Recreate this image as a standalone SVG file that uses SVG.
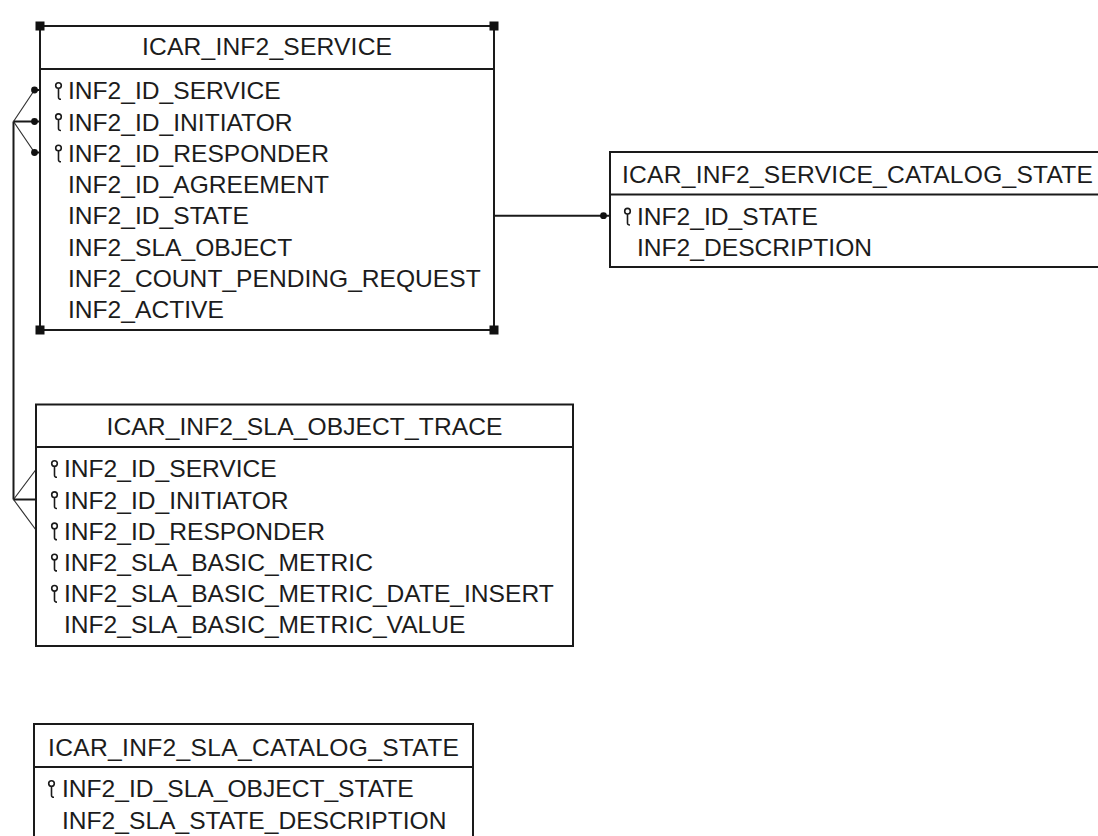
<svg xmlns="http://www.w3.org/2000/svg" width="1098" height="836" viewBox="0 0 1098 836">
<style>
  .box { fill: #ffffff; stroke: #1a1a1a; stroke-width: 2; }
  .div { stroke: #1a1a1a; stroke-width: 2; }
  .t { font-family: "Liberation Sans", Arial, sans-serif; font-size: 24.6px; fill: #1c1c1c; }
  .title { text-anchor: middle; }
  .conn { fill: none; stroke: #1a1a1a; stroke-width: 2; }
  .thin { fill: none; stroke: #333333; stroke-width: 1.2; }
  .dot { fill: #111111; }
  .handle { fill: #111111; }
  .key { fill: none; stroke: #1a1a1a; stroke-width: 1.6; }
</style>
<defs>
  <g id="keyicon">
    <circle class="key" cx="3.5" cy="-13.8" r="2.8"/>
    <path class="key" d="M3.5,-11 V-2 Q3.5,0 6,0"/>
  </g>
</defs>
<rect x="0" y="0" width="1098" height="836" fill="#ffffff"/>

<g id="connectors">
  <!-- SERVICE to SLA_OBJECT_TRACE -->
  <path class="conn" d="M13.5,121.5 V499.5"/>
  <path class="thin" d="M13.5,121.5 L34.5,90 M13.5,121.5 L34.5,152.5"/>
  <path class="conn" d="M13.5,121.5 H40 M34.5,90 H40 M34.5,152.5 H40"/>
  <circle class="dot" cx="34.5" cy="90" r="3.4"/>
  <circle class="dot" cx="34.5" cy="121.5" r="3.4"/>
  <circle class="dot" cx="34.5" cy="152.5" r="3.4"/>
  <path class="thin" d="M13.5,499.5 L36,469.5 M13.5,499.5 L36,530"/>
  <path class="conn" d="M13.5,499.5 H36"/>
  <!-- SERVICE to SERVICE_CATALOG_STATE -->
  <path class="conn" d="M494,215.7 H610"/>
  <circle class="dot" cx="603.5" cy="215.7" r="3.4"/>
</g>

<g id="icar_inf2_service">
  <rect class="box" x="40" y="26" width="454" height="304"/>
  <line class="div" x1="40" y1="69" x2="494" y2="69"/>
  <text class="t title" x="267" y="55" textLength="250" lengthAdjust="spacing">ICAR_INF2_SERVICE</text>
  <use href="#keyicon" x="55" y="99.3"/>
  <use href="#keyicon" x="55" y="130.5"/>
  <use href="#keyicon" x="55" y="161.8"/>
  <text class="t" x="68" y="99.3">INF2_ID_SERVICE</text>
  <text class="t" x="68" y="130.5">INF2_ID_INITIATOR</text>
  <text class="t" x="68" y="161.8">INF2_ID_RESPONDER</text>
  <text class="t" x="68" y="193">INF2_ID_AGREEMENT</text>
  <text class="t" x="68" y="224.3">INF2_ID_STATE</text>
  <text class="t" x="68" y="255.5">INF2_SLA_OBJECT</text>
  <text class="t" x="68" y="286.8">INF2_COUNT_PENDING_REQUEST</text>
  <text class="t" x="68" y="318">INF2_ACTIVE</text>
  <rect class="handle" x="35.5" y="21.5" width="9" height="9"/>
  <rect class="handle" x="489.5" y="21.5" width="9" height="9"/>
  <rect class="handle" x="35.5" y="325.5" width="9" height="9"/>
  <rect class="handle" x="489.5" y="325.5" width="9" height="9"/>
</g>

<g id="icar_inf2_service_catalog_state">
  <rect class="box" x="610" y="152" width="500" height="115"/>
  <line class="div" x1="610" y1="194.5" x2="1110" y2="194.5"/>
  <text class="t" x="622" y="182.5" textLength="471" lengthAdjust="spacing">ICAR_INF2_SERVICE_CATALOG_STATE</text>
  <use href="#keyicon" x="624" y="225"/>
  <text class="t" x="637" y="225">INF2_ID_STATE</text>
  <text class="t" x="637" y="256">INF2_DESCRIPTION</text>
</g>

<g id="icar_inf2_sla_object_trace">
  <rect class="box" x="36" y="404.5" width="537" height="241.5"/>
  <line class="div" x1="36" y1="447" x2="573" y2="447"/>
  <text class="t title" x="304.5" y="434.5" textLength="396" lengthAdjust="spacing">ICAR_INF2_SLA_OBJECT_TRACE</text>
  <use href="#keyicon" x="51" y="477.3"/>
  <use href="#keyicon" x="51" y="508.5"/>
  <use href="#keyicon" x="51" y="539.7"/>
  <use href="#keyicon" x="51" y="570.9"/>
  <use href="#keyicon" x="51" y="602.1"/>
  <text class="t" x="64" y="477.3">INF2_ID_SERVICE</text>
  <text class="t" x="64" y="508.5">INF2_ID_INITIATOR</text>
  <text class="t" x="64" y="539.7">INF2_ID_RESPONDER</text>
  <text class="t" x="64" y="570.9">INF2_SLA_BASIC_METRIC</text>
  <text class="t" x="64" y="602.1">INF2_SLA_BASIC_METRIC_DATE_INSERT</text>
  <text class="t" x="64" y="633.3">INF2_SLA_BASIC_METRIC_VALUE</text>
</g>

<g id="icar_inf2_sla_catalog_state">
  <rect class="box" x="34" y="724" width="439" height="130"/>
  <line class="div" x1="34" y1="767" x2="473" y2="767"/>
  <text class="t title" x="253.5" y="756" textLength="411" lengthAdjust="spacing">ICAR_INF2_SLA_CATALOG_STATE</text>
  <use href="#keyicon" x="48" y="797.3"/>
  <text class="t" x="62" y="797.3">INF2_ID_SLA_OBJECT_STATE</text>
  <text class="t" x="62" y="828.5">INF2_SLA_STATE_DESCRIPTION</text>
</g>
</svg>
